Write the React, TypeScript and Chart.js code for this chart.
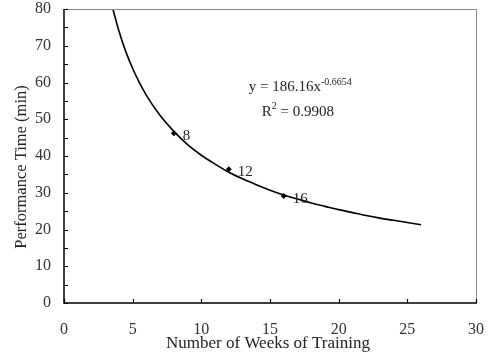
import React, { useEffect, useRef } from "react";
import { Chart, registerables } from "chart.js";

Chart.register(...registerables);

// Trendline (power fit y = 186.16x^-0.6654)
const trendWeeks = [3.56, 4, 4.5, 5, 5.5, 6, 7, 8, 9, 10, 11, 12, 13, 14, 15, 16, 17, 18, 19, 20, 21, 22, 23, 24, 25, 26];
const trendTimes = [80, 74.0, 68.4, 63.8, 59.9, 56.5, 51.0, 46.7, 43.1, 40.2, 37.8, 35.6, 33.8, 32.2, 30.7, 29.4, 28.3, 27.2, 26.3, 25.4, 24.6, 23.8, 23.1, 22.5, 21.9, 21.3];

// Observed points
const weeks = [8, 12, 16];
const times = [46.2, 36.4, 29.1];
const pointLabels = ["8", "12", "16"];

const xTicks = [0, 5, 10, 15, 20, 25, 30];
const yMinorTicks = [0, 5, 10, 15, 20, 25, 30, 35, 40, 45, 50, 55, 60, 65, 70, 75, 80];

const xTitle = "Number of Weeks of Training";
const yTitle = "Performance Time (min)";
const equationMain = "y = 186.16x";
const equationExp = "-0.6654";
const rSquaredMain = "R";
const rSquaredExp = "2";
const rSquaredRest = " = 0.9908";

const FONT = "'Liberation Serif', 'Times New Roman', serif";

const framePlugin = {
  id: "frameAndText",
  afterDraw(chart: any) {
    const ctx = chart.ctx;
    const { left, right, top, bottom } = chart.chartArea;
    const xs = chart.scales.x;
    const ys = chart.scales.y;
    ctx.save();
    // top & right border grey
    ctx.strokeStyle = "#8a8a8a";
    ctx.lineWidth = 1;
    ctx.beginPath();
    ctx.moveTo(left, top + 0.5);
    ctx.lineTo(right + 0.5, top + 0.5);
    ctx.lineTo(right + 0.5, bottom);
    ctx.stroke();
    // left & bottom black
    ctx.strokeStyle = "#000";
    ctx.lineWidth = 1.5;
    ctx.beginPath();
    ctx.moveTo(left, top);
    ctx.lineTo(left, bottom);
    ctx.lineTo(right + 1, bottom);
    ctx.stroke();
    // inward ticks
    ctx.lineWidth = 1.2;
    ctx.beginPath();
    for (const v of xTicks) {
      const px = Math.round(xs.getPixelForValue(v)) + 0.5;
      ctx.moveTo(px, bottom);
      ctx.lineTo(px, bottom - 4);
    }
    for (const v of yMinorTicks) {
      const py = Math.round(ys.getPixelForValue(v)) + 0.5;
      ctx.moveTo(left, py);
      ctx.lineTo(left + 4, py);
    }
    ctx.stroke();

    // axis titles
    ctx.fillStyle = "#222";
    ctx.font = `17px ${FONT}`;
    ctx.textAlign = "center";
    ctx.textBaseline = "alphabetic";
    ctx.fillText(xTitle, (left + right) / 2 - 2, 348);
    ctx.save();
    ctx.translate(26, 167);
    ctx.rotate(-Math.PI / 2);
    ctx.font = `16.5px ${FONT}`;
    ctx.fillText(yTitle, 0, 0);
    ctx.restore();

    // point labels
    ctx.font = `15px ${FONT}`;
    ctx.textBaseline = "middle";
    ctx.textAlign = "left";
    weeks.forEach((w, i) => {
      const px = xs.getPixelForValue(w);
      const py = ys.getPixelForValue(times[i]);
      ctx.fillText(pointLabels[i], px + 9, py + 3);
    });

    // equation
    ctx.textBaseline = "alphabetic";
    const ex = xs.getPixelForValue(13.45);
    const ey = ys.getPixelForValue(57.8);
    ctx.font = `15px ${FONT}`;
    ctx.fillText(equationMain, ex, ey);
    const w1 = ctx.measureText(equationMain).width;
    ctx.font = `10px ${FONT}`;
    ctx.fillText(equationExp, ex + w1, ey - 6);

    const rx = xs.getPixelForValue(14.4);
    const ry = ys.getPixelForValue(51.0);
    ctx.font = `15px ${FONT}`;
    ctx.fillText(rSquaredMain, rx, ry);
    const wr = ctx.measureText(rSquaredMain).width;
    ctx.font = `10px ${FONT}`;
    ctx.fillText(rSquaredExp, rx + wr, ry - 7);
    const w2 = ctx.measureText(rSquaredExp).width;
    ctx.font = `15px ${FONT}`;
    ctx.fillText(rSquaredRest, rx + wr + w2, ry);
    ctx.restore();
  },
};

export default function App() {
  const ref = useRef<HTMLCanvasElement | null>(null);
  useEffect(() => {
    document.body.style.margin = "0";
    const canvas = ref.current!;
    const chart = new Chart(canvas, {
      type: "scatter",
      data: {
        datasets: [
          {
            label: "trend",
            data: trendWeeks.map((x, i) => ({ x, y: trendTimes[i] })),
            showLine: true,
            borderColor: "#000",
            borderWidth: 1.6,
            pointRadius: 0,
            cubicInterpolationMode: "monotone",
          } as any,
          {
            label: "observed",
            data: weeks.map((x, i) => ({ x, y: times[i] })),
            pointStyle: "rectRot",
            pointRadius: 3,
            backgroundColor: "#000",
            borderColor: "#000",
            borderWidth: 0,
          } as any,
        ],
      },
      options: {
        responsive: false,
        animation: false,
        layout: { padding: { top: 9, right: 12, left: 0, bottom: 0 } },
        plugins: { legend: { display: false }, tooltip: { enabled: false } },
        scales: {
          x: {
            type: "linear",
            min: 0,
            max: 30,
            ticks: {
              stepSize: 5,
              padding: 17,
              color: "#333",
              font: { family: FONT, size: 16 },
            },
            grid: { display: false, drawTicks: false },
            border: { display: false },
            afterFit(scale: any) {
              scale.height = 54;
              scale.paddingLeft = 0;
              scale.paddingRight = 0;
            },
          },
          y: {
            type: "linear",
            min: 0,
            max: 80,
            ticks: {
              stepSize: 10,
              padding: 13,
              color: "#333",
              font: { family: FONT, size: 16 },
            },
            grid: { display: false, drawTicks: false },
            border: { display: false },
            afterFit(scale: any) {
              scale.width = 64;
              scale.paddingTop = 0;
              scale.paddingBottom = 0;
            },
          },
        },
      },
      plugins: [framePlugin],
    });
    return () => chart.destroy();
  }, []);
  return (
    <div style={{ position: "absolute", left: 0, top: 0, width: 488, height: 357 }}>
      <canvas ref={ref} width={488} height={357} style={{ display: "block" }} />
    </div>
  );
}
